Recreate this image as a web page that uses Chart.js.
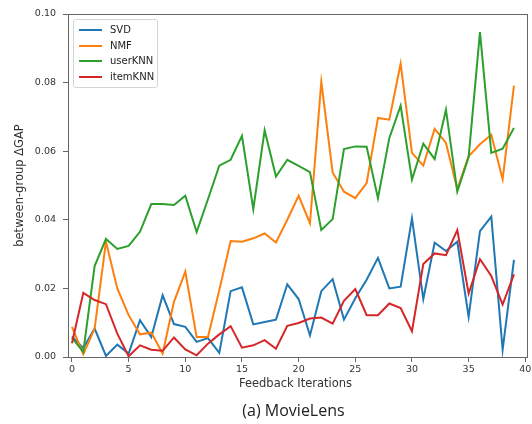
<!DOCTYPE html>
<html>
<head>
<meta charset="utf-8">
<script src="https://cdn.jsdelivr.net/npm/chart.js@4.4.1/dist/chart.umd.min.js"></script>
<style>
  html, body { margin: 0; padding: 0; background: #fff; overflow: hidden; }
  #wrap { position: relative; width: 540px; height: 424px; }
  #legend {
    position: absolute; left: 73px; top: 19px; width: 85px; height: 69px;
    box-sizing: border-box; border: 1px solid #d4d4d4; border-radius: 3px;
    background: rgba(255,255,255,.85);
    font: 10px 'DejaVu Sans', sans-serif; color: #222;
  }
  .lg-row { position: absolute; left: 0; height: 14px; width: 100%; }
  .lg-line { position: absolute; left: 5px; top: 6px; width: 23px; height: 2px; }
  .lg-text { position: absolute; left: 36px; top: 0; line-height: 14px; white-space: nowrap; }
</style>
</head>
<body>
<div id="wrap">
  <canvas id="chart" width="540" height="424"></canvas>
  <div id="legend"></div>
</div>
<script>
'use strict';

/* ── data ──────────────────────────────────────────────────────────────── */
const iterations = Array.from({ length: 40 }, (_, i) => i);
const xTicks = [0, 5, 10, 15, 20, 25, 30, 35, 40];
const yTicks = [0, 0.02, 0.04, 0.06, 0.08, 0.10];

const seriesNames  = ['SVD', 'NMF', 'userKNN', 'itemKNN'];
const seriesColors = ['#1f77b4', '#ff7f0e', '#2ca02c', '#d62728'];

const svd = [0.006, 0.0026, 0.0083, 0.0003, 0.0036, 0.001, 0.0107, 0.0058, 0.018, 0.0096,
             0.0088, 0.0044, 0.0055, 0.0012, 0.0192, 0.0203, 0.0095, 0.0102, 0.0109, 0.0212,
             0.0169, 0.0063, 0.0192, 0.0227, 0.0109, 0.0171, 0.0225, 0.0289, 0.020, 0.0205,
             0.0404, 0.0169, 0.0333, 0.0309, 0.0336, 0.0117, 0.0367, 0.0409, 0.0021, 0.0283];
const nmf = [0.0088, 0.0008, 0.0083, 0.0336, 0.020, 0.0122, 0.0066, 0.0071, 0.001, 0.0161,
             0.0249, 0.0058, 0.0058, 0.0195, 0.0338, 0.0336, 0.0346, 0.036, 0.0334, 0.040,
             0.047, 0.039, 0.0802, 0.0538, 0.0482, 0.0463, 0.0507, 0.0697, 0.0692, 0.0855,
             0.0595, 0.0558, 0.0665, 0.0624, 0.049, 0.0585, 0.062, 0.0648, 0.0518, 0.0791];
const userKNN = [0.0056, 0.0015, 0.0265, 0.0344, 0.0315, 0.0324, 0.0365, 0.0446, 0.0446, 0.0443,
                 0.047, 0.0364, 0.046, 0.0558, 0.0575, 0.0645, 0.0431, 0.0661, 0.0526, 0.0575,
                 0.0557, 0.0539, 0.037, 0.0402, 0.0606, 0.0614, 0.0613, 0.0463, 0.0638, 0.0733,
                 0.0517, 0.0622, 0.0577, 0.0721, 0.0482, 0.0583, 0.0947, 0.0595, 0.0607, 0.0668];
const itemKNN = [0.004, 0.0187, 0.0166, 0.0154, 0.0068, 0.0002, 0.0034, 0.0021, 0.0018, 0.0057,
                 0.0022, 0.0005, 0.0039, 0.0066, 0.009, 0.0027, 0.0034, 0.0049, 0.0024, 0.0091,
                 0.0099, 0.0112, 0.0115, 0.0097, 0.0164, 0.0198, 0.0122, 0.0122, 0.0156, 0.0143,
                 0.0075, 0.0271, 0.0302, 0.0297, 0.037, 0.0185, 0.0285, 0.0236, 0.0153, 0.0241];

const seriesValues = [svd, nmf, userKNN, itemKNN];

/* ── helpers ───────────────────────────────────────────────────────────── */
const AXIS = '#666';
const TXT  = '#333';
const FONT = "'DejaVu Sans', sans-serif";

// frame + axis titles + caption, matplotlib style
const decorPlugin = {
  id: 'decor',
  afterDatasetsDraw(chart) {
    const { ctx, chartArea: a } = chart;
    ctx.save();
    ctx.strokeStyle = AXIS;
    ctx.lineWidth = 1;
    ctx.strokeRect(a.left + 0.5, a.top + 0.5, a.right - a.left, a.bottom - a.top);
    ctx.restore();
  },
  afterDraw(chart) {
    const { ctx, chartArea: a } = chart;
    const cx = (a.left + a.right) / 2 - 2;
    ctx.save();
    ctx.fillStyle = TXT;
    ctx.textAlign = 'center';
    ctx.textBaseline = 'middle';

    ctx.font = '11.5px ' + FONT;
    ctx.fillText('Feedback Iterations', cx, 384);

    ctx.font = "16px 'Open Sans', sans-serif";
    ctx.fillStyle = '#222';
    ctx.fillText('(a) MovieLens', cx - 2, 411);

    ctx.fillStyle = TXT;
    ctx.font = '11.5px ' + FONT;
    ctx.translate(20, (a.top + a.bottom) / 2);
    ctx.rotate(-Math.PI / 2);
    ctx.fillText('between-group \u0394GAP', 0, 0);
    ctx.restore();
  }
};

/* ── chart ─────────────────────────────────────────────────────────────── */
const datasets = seriesNames.map((name, k) => ({
  label: name,
  data: iterations.map((x, i) => ({ x, y: seriesValues[k][i] })),
  borderColor: seriesColors[k],
  backgroundColor: seriesColors[k],
  borderWidth: 2,
  pointRadius: 0,
  tension: 0,
  fill: false,
  order: seriesNames.length - 1 - k   // later series on top, as in matplotlib
}));

new Chart(document.getElementById('chart'), {
  type: 'line',
  data: { datasets },
  plugins: [decorPlugin],
  options: {
    responsive: false,
    animation: false,
    layout: { padding: { left: 0, right: 13, top: 14, bottom: 0 } },
    plugins: { legend: { display: false }, tooltip: { enabled: false } },
    scales: {
      x: {
        type: 'linear',
        min: -0.35,
        max: 40.15,
        afterBuildTicks: s => { s.ticks = xTicks.map(v => ({ value: v })); },
        afterFit: s => { s.height = 67; },
        ticks: { color: TXT, font: { size: 9.5, family: FONT }, padding: 2, maxRotation: 0 },
        grid: { drawOnChartArea: false, tickLength: 5, color: AXIS },
        border: { color: AXIS }
      },
      y: {
        min: 0,
        max: 0.10,
        afterBuildTicks: s => { s.ticks = yTicks.map(v => ({ value: v })); },
        afterFit: s => { s.width = 68; },
        ticks: {
          color: TXT, font: { size: 9.5, family: FONT }, padding: 7,
          callback: v => v.toFixed(2)
        },
        grid: { drawOnChartArea: false, tickLength: 5, color: AXIS },
        border: { color: AXIS }
      }
    }
  }
});

/* ── legend (HTML) ─────────────────────────────────────────────────────── */
(function buildLegend() {
  const box = document.getElementById('legend');
  const rowTops = [3, 19, 34, 49.5];
  seriesNames.forEach((name, k) => {
    const row = document.createElement('div');
    row.className = 'lg-row';
    row.style.top = rowTops[k] + 'px';
    row.innerHTML = '<div class="lg-line" style="background:' + seriesColors[k] + '"></div>' +
                    '<div class="lg-text">' + name + '</div>';
    box.appendChild(row);
  });
})();
</script>
</body>
</html>
